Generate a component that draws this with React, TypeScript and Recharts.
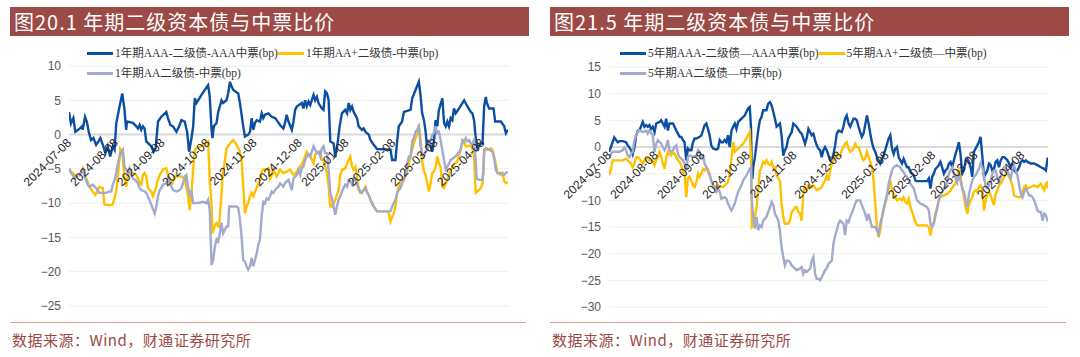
import React from 'react';
import { LineChart, Line, XAxis, YAxis, CartesianGrid, ReferenceLine, ReferenceDot } from 'recharts';

// ---- x axis (days since 2024-07-08) ----
const TICK_DAYS = [0, 31, 62, 92, 123, 153, 184, 215, 243, 274];
const TICK_LABELS = ['2024-07-08', '2024-08-08', '2024-09-08', '2024-10-08', '2024-11-08', '2024-12-08', '2025-01-08', '2025-02-08', '2025-03-08', '2025-04-08'];
const LAST_DAY = 291;

// ---- Chart 20: 1-year spreads [day, bp] ----
const y1AAA: number[][] = [[0,3.3],[1.3,1.6],[2.9,2.4],[4.2,0.4],[7.3,0.9],[8.6,1.2],[9.1,0.7],[10.6,2.6],[11.8,1.9],[13.1,0.4],[14.6,-0.8],[16.2,-0.5],[18,-1.5],[19.5,-1.0],[20.8,-0.5],[22.4,-1.5],[24.2,-2.7],[25.7,-1.7],[27.3,-3.2],[29,-1.7],[30.2,-2.2],[31.3,1.6],[33.5,4.1],[35.3,6.0],[36.8,3.6],[37.9,0.7],[38.4,1.9],[42.4,1.7],[44.6,1.2],[45.7,0.9],[46.8,1.4],[47.9,0.7],[49,1.2],[50.1,0.9],[51.2,-1.0],[54.5,-1.7],[56.1,-2.5],[57.4,-2.0],[59,1.9],[61.2,2.6],[64.5,3.3],[65.6,2.4],[67.2,1.4],[69,1.2],[71.2,0.4],[73,1.2],[74.5,2.1],[76.7,1.9],[78.3,0.4],[79.6,-2.5],[81.2,-0.5],[82.3,1.2],[83.4,5.3],[84.5,4.6],[85.6,5.0],[87.8,5.8],[90,6.5],[92.2,7.2],[93.3,5.5],[94.5,0.7],[95.1,-0.5],[96,1.2],[97.8,1.7],[98.9,3.3],[100,4.1],[101.1,5.0],[102.2,4.6],[104.4,5.0],[105.5,6.0],[106.7,7.7],[107.8,7.0],[108.9,6.5],[112.2,6.0],[113.3,4.6],[115.5,1.2],[116.6,-0.3],[118.8,0],[120,0.4],[121.1,2.4],[122.2,0.7],[123.3,1.7],[124.4,2.1],[126.6,1.9],[127.7,3.1],[128.8,2.4],[129.9,2.9],[132.2,3.1],[134.4,2.6],[136.6,2.4],[137.7,2.1],[139.9,1.4],[142.1,0.9],[143.2,1.7],[144.3,2.9],[145.5,1.9],[147.7,0.7],[148.8,1.9],[149.9,3.6],[151,4.1],[154.3,4.6],[155.4,3.8],[156.5,5.0],[157.6,4.1],[158.8,4.8],[159.9,4.3],[162.1,5.8],[163.2,5.0],[164.3,5.5],[165.4,4.6],[167.6,3.8],[168.7,3.6],[169.8,6.3],[171,6.0],[172.1,5.0],[173.2,-1.0],[175.4,-1.3],[176.5,-3.2],[177.6,-2.0],[179.4,1.2],[180.9,3.1],[183.1,3.6],[184.3,3.1],[185.4,4.6],[186.5,3.6],[187.6,4.1],[188.7,3.3],[190.9,2.4],[192,1.2],[194.2,0.7],[195.3,0.9],[196.5,0.4],[198.7,0],[199.8,-0.8],[202,-1.5],[204.2,-2.1],[213.1,-2.2],[214.2,-3.7],[216.4,-3.7],[217.5,-1.0],[218.6,1.2],[220.8,1.9],[222,3.3],[226.4,3.6],[227.5,5.3],[229.7,6.5],[231.9,7.7],[233,5.8],[234.1,3.1],[235.3,2.1],[236.4,0.4],[237.5,-2.2],[238.6,-0.8],[240.8,-2.5],[241.9,-1.0],[243,2.1],[244.1,1.2],[245.2,3.6],[247.5,5.3],[248.6,1.7],[249.7,1.2],[250.8,1.9],[251.9,1.2],[253,2.4],[254.1,2.1],[255.2,3.8],[256.3,3.1],[258.5,3.8],[261.9,5.0],[264.1,4.1],[266.3,3.3],[267.4,3.1],[268.5,2.1],[269.6,-0.5],[270.7,-2.0],[273,-1.3],[274.1,-1.3],[275.2,4.1],[276.3,5.5],[277,4.6],[278.5,3.8],[281.4,3.8],[282.5,1.9],[286.3,1.9],[288.5,1.2],[289.6,0.2],[291,0.7]];

const y1AAplus: number[][] = [[0,-5.1],[2.4,-5.6],[4.7,-6.1],[6.9,-5.9],[9.1,-4.9],[10.2,-5.9],[11.8,-6.6],[13.5,-7.6],[15.7,-8.3],[17.5,-8.8],[19,-8.1],[20.2,-7.6],[22.4,-7.8],[23.5,-10.2],[26.8,-10.3],[29,-10.2],[31.3,-8.3],[32.4,-6.1],[34,-2.1],[35.3,-2.5],[36.8,-6.4],[37.9,-7.6],[39,-6.1],[40.1,-5.4],[42.4,-5.6],[44.6,-5.9],[45.7,-6.4],[46.8,-7.1],[47.9,-7.3],[49,-5.9],[50.1,-5.6],[51.2,-6.1],[52.3,-7.8],[54.5,-8.3],[55.7,-9.0],[56.8,-8.3],[57.9,-7.6],[59,-6.6],[60.1,-5.9],[62.3,-5.1],[64.5,-4.9],[65.6,-5.9],[66.7,-6.6],[68.5,-7.1],[70,-6.1],[72.3,-6.1],[74.5,-6.1],[76.7,-6.4],[77.8,-7.6],[78.9,-9.0],[80,-11.0],[81.2,-8.5],[82.3,-5.1],[83.4,-2.2],[84.5,-2.0],[86.7,-1.8],[88.9,-1.5],[91.1,-1.2],[92.2,-1.0],[93.3,-6.6],[94.5,-10.2],[95.1,-14.4],[96.7,-13.2],[97.8,-12.9],[98.9,-13.4],[99.5,-13.4],[101,-9.0],[102,-5.6],[103.3,-3.9],[104.4,-2.0],[106.7,-1.3],[108.9,-0.8],[111.1,-1.5],[113.3,-2.5],[114.4,-3.7],[115.5,-7.6],[116.6,-11.5],[117.7,-10.5],[118.8,-10.0],[120,-9.0],[121.1,-8.5],[122.2,-9.0],[123.3,-8.3],[124.4,-7.8],[125.5,-7.1],[126.6,-6.6],[127.7,-5.4],[128.8,-5.1],[131,-5.1],[132.2,-4.9],[133.3,-6.4],[134.4,-5.9],[135.5,-5.1],[136.6,-5.6],[137.7,-6.1],[139.9,-5.1],[142.1,-5.6],[144.3,-5.4],[146.6,-5.1],[148.8,-5.9],[151,-5.4],[153.2,-4.7],[154.3,-4.4],[155.4,-3.7],[156.5,-3.2],[157.6,-2.5],[159.9,-3.2],[162.1,-4.2],[163.2,-2.9],[164.3,-2.7],[166.5,-2.5],[167.6,-3.7],[168.7,-3.7],[169.8,-4.7],[171,-5.6],[172.1,-7.6],[173.2,-10.5],[174.3,-10.5],[175.4,-10.0],[176.5,-9.5],[177.6,-8.8],[178.7,-8.1],[179.8,-5.9],[181,-5.1],[182,-5.1],[183.1,-4.9],[184.3,-4.2],[185.4,-3.7],[186.5,-3.2],[187.6,-4.7],[188.7,-5.1],[189.8,-4.7],[190.9,-6.1],[192,-8.1],[193.1,-8.5],[194.2,-8.3],[195.3,-8.1],[196.5,-7.6],[197.6,-8.3],[198.7,-8.8],[199.8,-9.5],[202,-10.5],[204.2,-11.2],[208.6,-11.2],[210.9,-11.2],[212,-11.5],[213.1,-12.7],[214.2,-12.0],[215.3,-11.5],[216.4,-10.5],[217.5,-8.5],[218.6,-7.6],[219.7,-6.8],[220.8,-6.4],[222,-6.6],[223.1,-6.1],[224.2,-5.1],[225.3,-4.2],[226.4,-3.2],[227.5,-2.2],[228.6,-1.3],[229.7,-0.5],[230.8,0],[231.9,1.4],[233,-0.5],[234.1,-3.9],[235.3,-5.4],[236.4,-5.9],[237.5,-7.1],[238.6,-8.3],[239.7,-7.1],[240.8,-5.6],[241.9,-5.4],[243,-4.7],[244.1,-3.2],[245.2,-4.2],[246.3,-4.7],[247.5,-7.6],[248.6,-7.8],[250.8,-6.6],[251.9,-5.9],[253,-5.1],[254.1,-4.9],[255.2,-4.4],[257.4,-3.9],[259.6,-2.2],[260.8,-1.3],[261.9,-1.0],[263,-1.7],[264.1,-1.7],[266.3,-1.6],[267.4,-2.0],[268.5,-3.2],[269.6,-8.5],[270.7,-8.3],[273,-7.8],[274.1,-7.1],[275.2,-2.7],[276.3,-2.0],[277.4,-2.2],[279.6,-2.0],[280.7,-2.2],[281.8,-3.2],[282.9,-4.2],[284,-5.6],[286.3,-5.9],[287.4,-5.6],[288.5,-6.8],[289.6,-7.1],[291,-6.9]];

const y1AA: number[][] = [[0,-4.9],[1.3,-5.6],[2.4,-5.9],[3.5,-6.4],[4.7,-6.1],[6.9,-5.9],[8,-5.6],[9.1,-5.1],[10.2,-5.9],[11.3,-6.6],[12.4,-7.3],[13.5,-7.6],[15.7,-7.3],[18,-7.8],[20.2,-8.5],[24.6,-8.5],[26.8,-8.3],[28,-8.3],[29,-7.3],[30.2,-6.6],[31.3,-5.6],[32.4,-4.2],[33.5,-3.2],[34.6,-2.5],[35.7,-2.2],[36.8,-4.7],[37.9,-5.1],[39,-5.6],[40.1,-4.9],[41.2,-5.9],[42.4,-6.4],[44.6,-6.8],[45.7,-7.1],[46.8,-7.8],[47.9,-8.1],[50.1,-8.3],[51.2,-8.5],[52.3,-9.0],[54.5,-10.2],[56.8,-11.5],[57.9,-10.5],[59,-9.0],[60.1,-8.1],[61.2,-7.8],[62.3,-7.3],[64.5,-7.1],[65.6,-6.4],[66.7,-7.1],[69,-8.1],[71.2,-8.3],[73.4,-8.1],[74.5,-7.8],[75.6,-7.1],[76.7,-6.1],[77.8,-5.9],[78.9,-7.6],[80,-8.8],[81.2,-8.3],[82.3,-10.0],[84.5,-10.0],[86.7,-9.9],[88.9,-9.8],[91.1,-10.0],[92.2,-9.5],[93.3,-11.0],[94.5,-19.0],[95.6,-18.3],[96.7,-16.3],[97.8,-15.3],[98.9,-15.6],[100,-14.4],[101.1,-12.9],[102.2,-14.4],[103.3,-13.9],[104.4,-13.4],[105.5,-13.4],[106.2,-10.5],[108.9,-10.5],[111.1,-10.5],[112.2,-10.7],[113.3,-12.4],[114.4,-14.9],[115.5,-18.3],[116.6,-18.5],[117.7,-19.2],[118.8,-19.7],[120,-19.2],[121.1,-18.0],[122.2,-19.2],[123.3,-18.3],[124.4,-17.3],[125.5,-16.1],[126.6,-15.3],[127.7,-11.9],[128.8,-9.8],[129.9,-10.0],[131,-9.3],[132.2,-9.5],[133.3,-9.0],[134.4,-8.3],[135.5,-8.5],[136.6,-8.1],[137.7,-7.8],[138.8,-7.6],[139.9,-7.1],[142.1,-7.6],[143.2,-7.1],[144.3,-6.8],[145.5,-6.6],[146.6,-7.3],[147.7,-8.1],[148.8,-6.4],[151,-5.9],[152.1,-5.1],[153.2,-5.9],[154.3,-4.9],[155.4,-4.7],[156.5,-3.7],[157.6,-3.2],[158.8,-2.9],[159.9,-3.2],[162.1,-1.7],[163.2,-2.2],[164.3,-2.7],[165.4,-2.5],[166.5,-3.2],[167.6,-2.0],[168.7,-1.7],[169.8,-2.7],[171,-2.7],[172.1,-5.1],[173.2,-8.5],[174.3,-9.3],[175.4,-10.5],[176.5,-11.7],[177.6,-10.5],[178.7,-9.5],[179.8,-9.0],[181,-8.3],[182,-7.8],[183.1,-7.3],[184.3,-7.6],[185.4,-6.6],[186.5,-6.8],[187.6,-7.3],[188.7,-6.4],[189.8,-6.6],[190.9,-7.3],[192,-7.8],[193.1,-8.3],[194.2,-8.5],[195.3,-8.1],[196.5,-7.8],[197.6,-8.5],[198.7,-8.8],[199.8,-9.5],[202,-10.5],[204.2,-11.2],[213.1,-11.2],[214.2,-10.5],[215.3,-10.0],[216.4,-9.5],[217.5,-8.5],[218.6,-8.1],[219.7,-7.8],[220.8,-7.1],[222,-6.4],[223.1,-5.9],[224.2,-4.2],[225.3,-3.2],[226.4,-3.2],[227.5,-1.0],[228.6,-0.5],[229.7,0.4],[230.8,0.7],[231.9,1.2],[233,-1.7],[234.1,-2.7],[235.3,-3.2],[236.4,-2.5],[237.5,-2.2],[238.6,-1.5],[239.7,-0.8],[240.8,0],[241.9,0.2],[243,1.2],[244.1,0.2],[245.2,0.4],[246.3,-0.8],[248.6,-3.7],[249.7,-5.1],[250.8,-4.7],[251.9,-4.2],[253,-3.7],[255.2,-3.4],[257.4,-2.9],[259.6,-2.2],[260.8,-0.8],[261.9,-1.0],[263,-0.5],[264.1,-1.0],[265.2,-0.8],[266.3,-1.3],[267.4,-1.3],[268.5,-0.8],[269.6,-3.7],[270.2,-6.4],[271.8,-6.6],[274.1,-6.6],[274.6,-5.6],[275.2,-2.2],[276.3,-2.0],[278.5,-2.2],[280.7,-2.5],[281.8,-3.4],[282.9,-5.1],[284,-5.6],[286.3,-5.6],[288.5,-5.9],[289.6,-5.6],[291,-5.4]];

// ---- Chart 21: 5-year spreads [day, bp] ----
const y5AAA: number[][] = [[0,-0.9],[1.3,0],[2.4,0.9],[3.5,1.8],[4.7,1.3],[5.8,0.9],[6.9,1.1],[9.1,1.1],[11.3,0.9],[12.4,0.3],[13.5,-0.1],[14.6,-0.6],[15.7,-1.4],[16.9,0],[18,2.2],[19.1,3.0],[20.2,3.1],[22.4,4.7],[23.5,3.8],[24.6,4.1],[25.7,3.8],[26.8,4.1],[27.9,3.4],[29,3.8],[30.2,2.8],[31.3,4.4],[33.5,4.7],[34.6,5.0],[35.7,4.4],[36.8,3.8],[37.9,5.3],[39,3.1],[40.1,4.4],[42.4,4.4],[43.5,3.8],[44.6,3.1],[45.7,2.5],[46.8,1.9],[47.9,1.9],[49,1.3],[50.1,0.9],[51.2,-2.5],[52.3,-0.3],[53.4,-0.6],[54.6,-0.6],[55.7,0.9],[56.8,1.6],[57.9,1.6],[60.1,1.9],[61.2,2.2],[62.3,3.1],[63.4,4.1],[64.5,4.4],[65.6,3.4],[66.7,2.2],[67.8,0.3],[69,-0.3],[71.2,-0.5],[72.3,-0.3],[73.4,1.3],[74.5,0.9],[75.6,0.9],[76.7,1.3],[77.8,0.9],[78.9,2.2],[80,0],[81.2,3.1],[82.3,3.8],[83.4,4.4],[84.5,3.4],[85.6,4.7],[86.7,5.0],[87.8,5.3],[88.9,5.6],[90,5.9],[91.1,6.6],[92.2,7.2],[93.3,7.5],[94.1,3.8],[94.7,-5.6],[95.1,-6.0],[95.6,-3.8],[96.7,-1.9],[97.8,0.6],[98.9,3.1],[100,5.0],[101.1,5.6],[102.2,6.9],[104.4,6.9],[105.5,8.1],[106.7,8.4],[107.8,7.8],[108.9,6.6],[110,5.3],[111.1,3.8],[112.2,4.1],[113.3,4.4],[114.4,2.2],[115.5,-1.6],[116.6,-0.6],[117.7,0],[118.8,1.6],[121.1,2.8],[122.2,4.4],[123.3,4.1],[124.4,3.8],[126.6,2.8],[127.7,2.5],[128.8,1.6],[129.9,0.6],[131,1.6],[132.2,3.4],[133.3,2.8],[134.4,2.2],[135.5,2.5],[136.6,1.3],[137.7,0.3],[138.8,-0.3],[139.9,-0.6],[141,-1.9],[142.1,-0.6],[143.2,0],[144.3,-0.6],[145.5,-1.6],[146.6,-2.5],[147.7,-2.8],[148.8,-1.3],[149.9,0.3],[151,2.5],[152.1,3.1],[154.3,2.8],[155.4,3.8],[156.5,5.3],[157.6,5.9],[158.8,4.4],[159.9,3.8],[162.1,5.3],[163.2,5.3],[164.3,5.0],[165.4,3.8],[166.5,2.8],[167.6,1.9],[168.7,2.5],[169.8,4.1],[171,5.9],[172.1,4.4],[173.2,2.5],[174.3,0.9],[175.4,-0.3],[176.5,-0.9],[177.6,-1.9],[178.7,-2.5],[179.8,-3.1],[181,-2.2],[182,-1.6],[183.1,-0.6],[184.3,0.6],[185.4,1.6],[186.5,2.2],[187.6,-0.3],[188.7,-1.3],[189.8,-0.3],[190.9,0],[192,-1.9],[193.1,-2.5],[194.2,-3.1],[195.3,-2.2],[196.5,-3.1],[197.6,-3.8],[198.7,-3.8],[199.8,-4.7],[202,-5.3],[203.1,-6.3],[204.2,-6.4],[210.9,-6.4],[212,-5.9],[213.1,-7.8],[214.2,-5.6],[215.3,-5.0],[216.4,-4.1],[217.5,-3.8],[218.6,-3.4],[219.7,-2.8],[220.8,-3.8],[222,-5.0],[223.1,-4.4],[224.2,-4.1],[225.3,-3.1],[226.4,-2.8],[227.5,-3.8],[228.6,-2.5],[229.7,-1.3],[230.8,-0.3],[231.9,0.9],[233,-1.3],[234.1,-5.0],[235.3,-4.4],[236.4,-2.5],[237.5,-2.2],[238.6,-2.8],[239.7,-3.8],[240.8,-5.6],[241.9,-0.9],[243,-0.3],[244.1,0.3],[245.2,0.9],[246.3,1.9],[247.5,-1.9],[248.6,-5.6],[249.7,-5.0],[250.8,-4.4],[251.9,-3.1],[253,-3.4],[254.1,-4.4],[255.2,-4.1],[256.3,-2.8],[257.4,-2.5],[258.5,-3.8],[259.6,-2.5],[260.8,-1.9],[261.9,-1.9],[263,-2.2],[264.1,-2.5],[265.2,-3.1],[266.3,-3.8],[267.4,-3.1],[268.5,-4.4],[269.6,-4.7],[270.7,-4.4],[271.8,-3.8],[273,-2.8],[274.1,-2.5],[275.2,-2.8],[276.3,-2.5],[277.4,-2.8],[279.6,-3.1],[281.8,-3.1],[284,-3.4],[286.3,-3.8],[288.5,-4.1],[289.6,-4.4],[290.7,-2.2],[291,-2.2]];

const y5AAplus: number[][] = [[0,-5.3],[1.3,-4.1],[2.4,-2.5],[4.7,-2.5],[6.9,-2.5],[9.1,-2.5],[11.3,-2.2],[13.5,-2.8],[14.6,-3.1],[15.7,-3.8],[16.9,-3.1],[18,-1.9],[19.1,-1.9],[20.2,-2.2],[22.4,-3.1],[23.5,-2.5],[24.6,-1.9],[26.8,-2.5],[29,-2.5],[30.2,-3.4],[31.3,-2.5],[32.4,-1.9],[33.5,-0.9],[34.6,-1.9],[35.7,-3.1],[36.8,-4.1],[37.9,-2.2],[39,-0.9],[40.1,-1.3],[41.2,-1.6],[42.4,-0.9],[43.5,-1.3],[44.6,-1.9],[45.7,-2.5],[46.8,-2.8],[47.9,-3.4],[49,-4.7],[50.1,-5.0],[51.2,-9.4],[52.3,-5.9],[53.4,-5.6],[54.6,-6.3],[55.7,-7.2],[56.8,-7.5],[57.9,-6.6],[59,-5.0],[60.1,-5.6],[61.2,-5.0],[62.3,-4.1],[63.4,-4.4],[64.5,-3.8],[65.6,-4.1],[66.7,-5.0],[67.8,-6.3],[69,-7.2],[70.1,-7.5],[72.3,-7.2],[73.4,-7.5],[75.6,-7.5],[76.7,-7.2],[78.9,-6.6],[80,-5.0],[81.2,-2.2],[82.3,0.9],[83.4,-0.9],[86.7,0],[88.9,0.6],[91.1,1.6],[93.3,2.8],[94.2,-2.5],[94.7,-15.0],[95.6,-14.7],[96.7,-13.1],[97.8,-11.3],[98.9,-8.1],[100,-4.4],[101.1,-3.8],[102.2,-2.8],[103.3,-3.1],[104.4,-2.5],[105.5,-3.1],[106.7,-3.4],[107.8,-2.8],[108.9,-3.8],[110,-3.8],[111.1,-5.3],[112.2,-5.9],[113.3,-6.3],[114.4,-10.6],[115.5,-13.1],[116.6,-14.4],[118.8,-14.4],[120,-13.8],[121.1,-12.2],[122.2,-11.9],[123.3,-11.3],[124.4,-11.3],[125.5,-12.2],[126.6,-12.5],[127.7,-13.8],[128.8,-8.8],[129.9,-7.5],[131,-8.1],[132.2,-7.2],[133.3,-7.2],[134.4,-7.5],[135.5,-7.2],[137.7,-8.1],[139.9,-7.8],[141,-7.5],[142.1,-6.9],[143.2,-6.3],[144.3,-5.3],[145.5,-6.3],[146.6,-4.4],[147.7,-3.1],[148.8,-2.5],[149.9,-1.9],[151,-1.3],[153.2,-1.6],[154.3,-0.6],[155.4,0],[156.5,0.6],[157.6,0.9],[158.8,-0.3],[159.9,-0.9],[162.1,-0.3],[163.2,0.6],[164.3,0],[165.4,0],[166.5,-0.9],[167.6,-1.9],[168.7,-2.5],[169.8,-2.2],[171,-0.9],[172.1,-1.9],[173.2,-2.8],[174.3,-3.8],[175.4,-6.3],[176.5,-10.6],[177.6,-15.0],[178.7,-16.9],[179.8,-15.6],[181,-13.1],[182,-11.9],[183.1,-10.6],[184.3,-9.4],[185.4,-7.8],[186.5,-6.3],[187.6,-8.1],[188.7,-8.8],[189.8,-9.4],[190.9,-10.0],[193.1,-9.7],[194.2,-10.0],[195.3,-9.4],[196.5,-10.3],[197.6,-10.6],[198.7,-9.7],[199.8,-11.3],[201,-12.2],[202,-13.1],[203.1,-14.1],[204.2,-14.7],[210.9,-14.7],[212,-15.0],[213.1,-16.6],[214.2,-14.7],[215.3,-14.1],[216.4,-12.5],[217.5,-11.3],[218.6,-10.0],[219.7,-9.4],[222,-9.1],[224.2,-8.8],[226.4,-8.1],[228.6,-7.2],[229.7,-6.9],[230.8,-5.3],[231.9,-4.4],[233,-5.6],[234.1,-7.5],[235.3,-9.4],[236.4,-11.3],[237.5,-12.5],[238.6,-10.9],[239.7,-10.0],[240.8,-9.4],[241.9,-8.4],[243,-8.1],[244.1,-8.4],[245.2,-7.5],[246.3,-7.2],[247.5,-8.1],[248.6,-11.9],[249.7,-10.0],[250.8,-8.8],[251.9,-8.4],[253,-9.1],[254.1,-10.0],[255.2,-10.9],[256.3,-8.8],[257.4,-8.1],[258.5,-7.2],[259.6,-6.9],[260.8,-6.3],[261.9,-5.6],[263,-5.0],[264.1,-4.7],[265.2,-5.6],[266.3,-6.3],[267.4,-7.2],[268.5,-9.1],[270.7,-9.4],[273,-9.4],[274.1,-8.4],[275.2,-7.5],[276.3,-7.2],[277.4,-7.8],[279.6,-7.5],[281.8,-7.2],[284,-7.5],[286.3,-6.9],[287.4,-7.5],[288.5,-8.1],[289.6,-6.9],[290.7,-6.6],[291,-7.8]];

const y5AA: number[][] = [[0,-2.1],[1.3,-1.3],[2.4,-0.9],[4.7,-0.9],[6.9,-0.9],[9.1,-0.6],[10.2,-0.1],[11.3,-0.6],[12.4,-1.6],[13.5,-1.9],[14.6,-1.3],[15.7,-0.9],[16.9,1.3],[18,2.2],[19.1,2.8],[20.2,3.1],[22.4,2.8],[24.6,3.1],[25.7,2.5],[26.8,3.1],[29,2.2],[30.2,-0.9],[31.3,0.6],[32.4,1.3],[34.6,0.6],[35.7,0],[36.8,-0.6],[37.9,0],[39,1.3],[40.1,-0.6],[41.2,-0.9],[42.4,-0.6],[43.5,0],[44.6,0.3],[45.7,-1.3],[46.8,-1.9],[47.9,-2.2],[49,-2.5],[50.1,-3.1],[51.2,-4.4],[52.3,-1.9],[53.4,-1.6],[55.7,-1.9],[58,-1.6],[59,-0.6],[60.1,-0.9],[61.2,-1.9],[62.3,-1.6],[63.4,-3.1],[64.5,-3.8],[66.7,-5.3],[67.8,-6.3],[69,-7.2],[70.1,-7.5],[71.2,-8.4],[72.3,-7.8],[73.4,-8.4],[74.5,-9.7],[76.7,-9.4],[77.8,-9.7],[78.9,-10.6],[80,-11.3],[81.2,-11.9],[82.3,-11.3],[83.4,-10.6],[84.5,-9.4],[85.6,-8.4],[86.7,-7.8],[87.8,-7.2],[88.9,-6.3],[91.1,-5.3],[93.3,-4.1],[94.1,-3.8],[94.7,-10.0],[95.6,-13.1],[96.7,-15.3],[97.8,-13.1],[98.9,-15.6],[100,-14.7],[101.1,-15.0],[102.2,-13.8],[104.4,-13.1],[105.5,-12.2],[106.7,-11.3],[107.8,-10.3],[108.9,-10.9],[110,-12.5],[111.1,-13.1],[112.2,-13.8],[113.3,-15.6],[114.4,-18.8],[115.5,-20.6],[116.6,-22.2],[117.7,-21.3],[118.8,-21.3],[120,-21.6],[121.1,-22.2],[122.2,-22.5],[123.3,-22.8],[124.4,-23.1],[126.6,-22.8],[127.7,-22.5],[128.8,-23.8],[129.9,-23.1],[131,-23.4],[133.3,-22.8],[134.4,-21.3],[135.5,-20.6],[136.6,-23.8],[137.7,-24.7],[138.8,-24.7],[139.9,-25],[141,-24.4],[142.1,-23.8],[143.2,-23.1],[144.3,-22.8],[145.5,-21.9],[147.7,-21.3],[148.8,-18.1],[149.9,-16.6],[151,-15.6],[152.1,-14.4],[153.2,-13.8],[155.4,-14.4],[156.5,-16.5],[157.6,-13.8],[158.8,-14.1],[159.9,-13.1],[162.1,-11.6],[163.2,-10.6],[164.3,-10.0],[166.5,-10.0],[167.6,-10.9],[169.8,-12.5],[171,-13.8],[172.1,-12.5],[173.2,-13.8],[174.3,-15.0],[176.5,-15.0],[177.6,-15.6],[178.7,-16.3],[179.8,-14.4],[181,-13.1],[182,-11.6],[183.1,-10.3],[184.3,-8.8],[185.4,-6.9],[186.5,-5.6],[187.6,-4.4],[188.7,-3.8],[190.9,-3.4],[193.1,-3.8],[194.2,-4.4],[195.3,-4.7],[196.5,-5.3],[197.6,-5.6],[199.8,-6.9],[202,-7.8],[204.2,-10.0],[205.3,-10.3],[206.4,-10.6],[208.6,-10.9],[210.9,-11.3],[212,-11.9],[213.1,-14.4],[214.2,-15.0],[215.3,-14.4],[216.4,-12.8],[217.5,-11.6],[218.6,-10.0],[219.7,-9.1],[220.8,-8.4],[222,-7.8],[223.1,-7.5],[224.2,-6.6],[225.3,-5.0],[226.4,-4.4],[227.5,-3.8],[228.6,-5.0],[230.8,-6.6],[231.9,-5.0],[233,-6.3],[234.1,-7.8],[235.3,-8.4],[236.4,-10.0],[237.5,-11.3],[238.6,-8.8],[239.7,-7.5],[240.8,-6.3],[241.9,-5.6],[243,-5.3],[244.1,-4.7],[245.2,-4.1],[246.3,-3.1],[247.5,-3.8],[248.6,-5.6],[249.7,-7.5],[250.8,-7.8],[251.9,-7.2],[253,-6.3],[254.1,-5.0],[255.2,-4.4],[256.3,-4.4],[257.4,-5.6],[258.5,-6.6],[259.6,-5.6],[260.8,-4.4],[261.9,-3.8],[263,-4.1],[264.1,-4.4],[265.2,-5.3],[266.3,-5.9],[267.4,-4.1],[268.5,-3.4],[269.6,-4.4],[270.7,-5.3],[273,-8.8],[274.1,-9.4],[275.2,-8.4],[276.3,-7.8],[277.4,-8.4],[278.5,-9.1],[279.6,-9.1],[280.7,-9.4],[281.8,-10.0],[282.9,-10.9],[284,-11.9],[285.2,-12.2],[286.3,-12.2],[287.4,-13.8],[288.5,-12.5],[289.6,-12.8],[290.7,-13.8],[291,-13.8]];

const Y1_TICKS = [-25, -20, -15, -10, -5, 0, 5, 10];
const Y5_TICKS = [-30, -25, -20, -15, -10, -5, 0, 5, 10, 15];

const NAMES_1 = ['1年期AAA-二级债-AAA中票(bp)', '1年期AA+二级债-中票(bp)', '1年期AA二级债-中票(bp)'];
const NAMES_5 = ['5年期AAA-二级债—AAA中票(bp)', '5年期AA+二级债—中票(bp)', '5年期AA二级债—中票(bp)'];

const COLORS = ['#0B4EA2', '#FFC000', '#A3ABCD'];
const CJK = "'Noto Sans CJK SC', 'Noto Sans', sans-serif";
const SERIF_MIX = "'Liberation Serif', 'Noto Sans CJK SC', serif";
const SANS = "'Liberation Sans', Arial, sans-serif";

const toRows = (pairs: number[][]) => pairs.map(([d, v]) => ({ d, v }));

function XTick({ cx, cy, text }: { cx: number; cy: number; text: string }) {
  const px = cx + 3;
  const py = cy + 9;
  return (
    <text x={px} y={py} transform={`rotate(-45, ${px}, ${py})`} textAnchor="end" fontSize={12} fontFamily={SANS} fill="#262626">
      {text}
    </text>
  );
}

function LegendItem({ color, label }: { color: string; label: string }) {
  return (
    <span style={{ display: 'inline-flex', alignItems: 'center', whiteSpace: 'nowrap' }}>
      <span style={{ display: 'inline-block', width: 26, height: 3, background: color }} />
      <span style={{ marginLeft: 2 }}>{label}</span>
    </span>
  );
}

type PanelProps = {
  left: number;
  title: string;
  names: string[];
  series: number[][][];
  yDomain: [number, number];
  yTicks: number[];
  top: number;
  bottom: number;
  legendX: number;
};

function Panel({ left, title, names, series, yDomain, yTicks, top, bottom, legendX }: PanelProps) {
  const legendStyle: React.CSSProperties = {
    position: 'absolute', left: legendX, fontFamily: SERIF_MIX, fontSize: 11.5, color: '#333',
    lineHeight: '14px', display: 'flex',
  };
  return (
    <div style={{ position: 'absolute', left, top: 0, width: 540, height: 357 }}>
      <div
        style={{
          position: 'absolute', left: 10, top: 7, width: 519, height: 29, background: '#9C4A45',
          color: '#ffffff', fontFamily: CJK, fontSize: 20, lineHeight: '29px', paddingLeft: 4,
          letterSpacing: 1, whiteSpace: 'nowrap', boxSizing: 'border-box',
        }}
      >
        {title}
      </div>
      <div style={{ position: 'absolute', left: 0, top: 0 }}>
        <LineChart width={540} height={357} margin={{ top, right: 32, bottom, left: 29 }}>
          <CartesianGrid vertical={false} stroke="#eeeeee" />
          <XAxis type="number" dataKey="d" domain={[0, LAST_DAY]} hide allowDataOverflow />
          <YAxis
            type="number"
            domain={yDomain}
            ticks={yTicks}
            interval={0}
            width={40}
            axisLine={false}
            tickLine={false}
            allowDataOverflow
            tick={{ fill: '#595959', fontSize: 12, fontFamily: SANS }}
            tickFormatter={(v: number) => String(v).replace('-', '\u2212')}
          />
          <ReferenceLine y={0} stroke="#d9d9d9" strokeWidth={2} />
          {series.map((s, i) => (
            <Line
              key={i}
              data={toRows(s)}
              dataKey="v"
              type="linear"
              stroke={COLORS[i]}
              strokeWidth={2.4}
              dot={false}
              activeDot={false}
              isAnimationActive={false}
            />
          ))}
          {TICK_DAYS.map((d, i) => (
            <ReferenceDot
              key={d}
              x={d}
              y={0}
              r={0}
              ifOverflow="visible"
              shape={(p: any) => <XTick cx={p.cx} cy={p.cy} text={TICK_LABELS[i]} />}
            />
          ))}
        </LineChart>
      </div>
      <div style={{ ...legendStyle, top: 46 }}>
        <LegendItem color={COLORS[0]} label={names[0]} />
        <LegendItem color={COLORS[1]} label={names[1]} />
      </div>
      <div style={{ ...legendStyle, top: 66 }}>
        <LegendItem color={COLORS[2]} label={names[2]} />
      </div>
      <div style={{ position: 'absolute', left: 10, top: 322, width: 516, height: 1, background: '#D4A19D' }} />
      <div style={{ position: 'absolute', left: 12, top: 330, fontFamily: CJK, fontSize: 15, lineHeight: '20px', color: '#9C4A45', whiteSpace: 'nowrap', letterSpacing: 0.5 }}>
        数据来源：Wind，财通证券研究所
      </div>
    </div>
  );
}

export default function App() {
  return (
    <div style={{ position: 'absolute', left: 0, top: 0, width: 1080, height: 357, background: '#ffffff', overflow: 'hidden' }}>
      <Panel
        left={0}
        title="图20.1 年期二级资本债与中票比价"
        names={NAMES_1}
        series={[y1AAA, y1AAplus, y1AA]}
        yDomain={[-25, 10]}
        yTicks={Y1_TICKS}
        top={66}
        bottom={51}
        legendX={87}
      />
      <Panel
        left={540}
        title="图21.5 年期二级资本债与中票比价"
        names={NAMES_5}
        series={[y5AAA, y5AAplus, y5AA]}
        yDomain={[-30, 15]}
        yTicks={Y5_TICKS}
        top={67}
        bottom={50}
        legendX={80}
      />
    </div>
  );
}
